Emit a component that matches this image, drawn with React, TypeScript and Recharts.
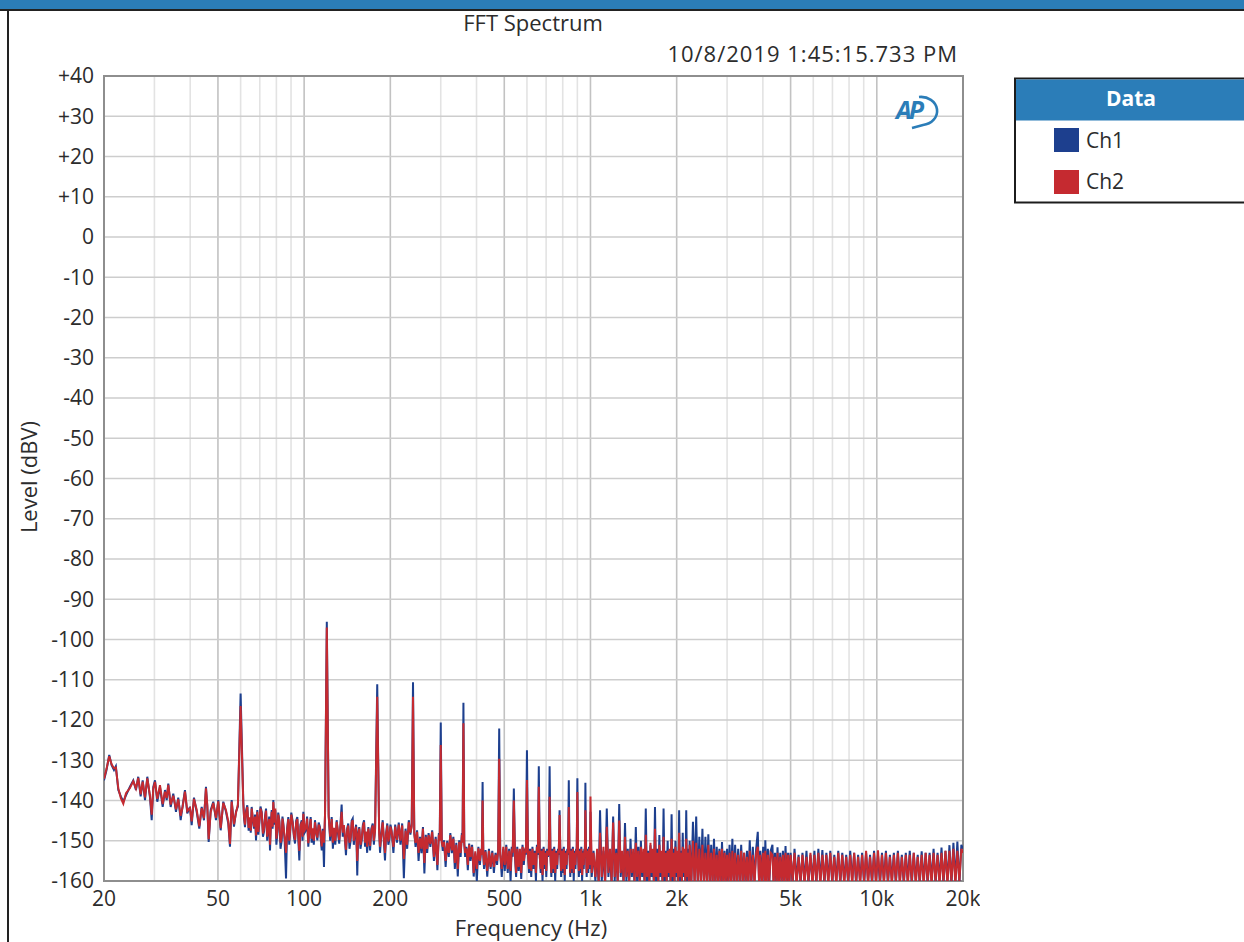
import React from 'react';
import { LineChart, Line, XAxis, YAxis, CartesianGrid, ReferenceArea } from 'recharts';

// Each row: [frequency Hz, Ch1 level dBV, Ch2 level dBV]
type Row = [number, number, number];

// 20 Hz – 60 Hz: low-frequency noise floor up to the mains fundamental
const lowBand: Row[] = [
  [20.0, -135.0, -134.6], [20.4, -132.5, -132.2], [20.86, -128.7, -129.0], [21.26, -131.2, -131.0],
  [21.67, -132.4, -132.0], [22.0, -131.5, -131.8], [22.44, -137.4, -137.0], [22.9, -139.0, -139.4],
  [23.36, -140.3, -140.8], [23.87, -138.7, -138.2], [24.64, -136.6, -136.9], [25.31, -135.0, -135.2],
  [25.86, -137.4, -137.0], [26.34, -134.1, -134.4], [26.86, -139.0, -138.5], [27.3, -135.0, -135.3],
  [27.81, -139.9, -139.2], [28.33, -134.1, -134.5], [28.95, -139.3, -138.8], [29.35, -144.9, -143.5],
  [29.73, -136.6, -137.0], [30.14, -135.0, -135.4], [30.7, -140.3, -139.6], [31.37, -136.6, -136.2],
  [32.06, -141.6, -140.9], [32.66, -137.4, -137.8], [33.11, -139.9, -139.4], [33.54, -135.8, -136.1],
  [34.19, -141.6, -141.0], [34.91, -138.3, -138.8], [35.68, -142.8, -142.2], [36.34, -139.3, -139.7],
  [37.05, -144.9, -143.8], [37.65, -141.2, -141.6], [38.35, -137.4, -137.8], [39.07, -143.2, -142.6],
  [39.93, -141.6, -141.9], [40.48, -146.1, -145.2], [41.23, -139.3, -139.6], [42.14, -142.8, -142.3],
  [43.03, -147.0, -146.4], [43.87, -141.6, -141.9], [44.69, -144.9, -144.4], [45.41, -136.6, -137.0],
  [45.9, -141.6, -141.2], [46.41, -150.3, -149.6], [47.16, -142.4, -142.9], [48.16, -140.3, -140.6],
  [49.22, -144.9, -144.3], [50.13, -139.9, -140.2], [51.11, -147.4, -146.9], [52.19, -140.3, -140.6],
  [53.34, -142.8, -142.4], [54.33, -145.7, -145.2], [55.08, -151.5, -150.8], [55.84, -139.9, -140.3],
  [56.88, -146.5, -145.9], [57.8, -142.8, -143.1], [58.7, -141.5, -141.0], [60.0, -113.4, -116.5],
];

// 60 Hz – 200 Hz: hum harmonics at 120 Hz and 180 Hz
const humBand: Row[] = [
  [61.31, -140.3, -140.8], [61.7, -144.5, -144.0], [62.15, -146.6, -146.0], [62.7, -142.5, -143.0],
  [63.31, -141.2, -141.6], [64.0, -147.5, -146.8], [64.7, -144.9, -144.2], [65.1, -148.0, -147.5],
  [65.59, -141.6, -142.0], [66.2, -145.0, -144.6], [66.82, -147.0, -146.5], [67.4, -143.5, -144.0],
  [67.91, -149.9, -148.7], [68.62, -142.4, -142.8], [69.2, -148.5, -147.8], [69.73, -145.7, -145.2],
  [70.4, -141.5, -142.0], [71.1, -142.8, -143.2], [71.8, -149.0, -148.2], [72.42, -147.7, -147.0],
  [73.0, -144.0, -144.5], [73.6, -142.0, -142.5], [74.3, -150.0, -149.0], [74.97, -146.5, -146.0],
  [75.5, -144.0, -144.6], [76.0, -152.4, -151.0], [76.5, -146.0, -146.4], [77.05, -142.4, -142.8],
  [77.6, -147.0, -146.5], [78.05, -139.9, -140.4], [78.7, -146.0, -145.5], [79.32, -142.4, -142.0],
  [80.0, -151.0, -149.5], [80.61, -148.2, -147.5], [81.2, -143.0, -143.5], [81.91, -144.9, -145.3],
  [82.7, -152.0, -150.5], [83.51, -149.9, -149.0], [84.0, -144.0, -144.5], [84.59, -145.7, -146.2],
  [85.5, -150.0, -149.0], [86.44, -159.4, -153.0], [87.2, -147.0, -147.5], [88.06, -144.1, -144.6],
  [88.7, -151.0, -150.0], [89.27, -148.2, -147.6], [90.2, -143.0, -143.5], [91.23, -145.3, -145.8],
  [92.1, -149.0, -148.5], [92.94, -150.7, -149.8], [93.8, -145.0, -145.5], [94.67, -144.1, -144.6],
  [95.4, -149.5, -148.8], [96.21, -154.9, -152.5], [97.1, -146.0, -146.5], [98.09, -144.9, -145.3],
  [98.7, -150.0, -149.0], [99.36, -142.8, -143.3], [100.4, -148.0, -147.4], [101.5, -147.4, -146.8],
  [102.4, -144.0, -144.5], [103.4, -151.5, -150.6], [104.4, -147.0, -147.5], [105.4, -144.1, -144.6],
  [106.2, -150.5, -149.5], [107.1, -147.4, -146.9], [108.1, -151.0, -150.0], [109.1, -144.9, -145.4],
  [110.1, -147.5, -147.9], [111.2, -149.9, -149.2], [112.4, -145.5, -146.0], [113.6, -146.6, -147.0],
  [114.4, -150.0, -149.0], [115.2, -152.4, -151.4], [116.2, -147.0, -147.5], [117.3, -156.5, -150.5],
  [118.3, -143.0, -143.5], [120.0, -95.6, -97.0], [121.8, -143.5, -144.0], [123.3, -150.0, -149.0],
  [124.8, -144.1, -144.6], [126.0, -152.0, -150.5], [127.1, -147.4, -146.8], [128.5, -151.0, -150.0],
  [129.9, -144.9, -145.3], [131.2, -148.0, -147.5], [132.6, -150.7, -149.8], [133.9, -146.0, -146.4],
  [135.2, -141.0, -142.8], [136.4, -149.0, -148.0], [137.7, -146.6, -146.1], [138.9, -150.0, -149.5],
  [140.0, -153.6, -152.2], [141.3, -147.0, -147.5], [142.6, -145.7, -146.2], [144.0, -152.0, -150.5],
  [145.4, -149.9, -149.1], [146.6, -145.0, -145.5], [147.8, -144.5, -144.9], [149.1, -151.0, -150.0],
  [150.5, -148.2, -147.6], [151.9, -146.0, -146.5], [153.3, -158.6, -155.0], [154.5, -148.0, -148.5],
  [155.8, -146.6, -147.0], [157.3, -152.0, -151.0], [158.9, -149.9, -149.3], [160.4, -146.0, -146.5],
  [161.9, -144.9, -145.4], [163.2, -151.5, -150.5], [164.5, -148.2, -147.7], [166.0, -153.0, -151.5],
  [167.6, -146.6, -147.0], [168.8, -149.5, -149.0], [169.9, -152.4, -151.3], [171.7, -147.0, -147.5],
  [173.6, -145.7, -146.2], [175.2, -151.0, -150.0], [176.9, -147.0, -147.4], [180.0, -111.1, -114.2],
  [182.8, -147.5, -148.0], [184.1, -153.0, -151.5], [186.1, -148.0, -148.5], [188.1, -144.9, -145.4],
  [189.8, -150.0, -149.2], [191.6, -154.9, -153.0], [193.4, -148.0, -148.4], [195.2, -145.7, -146.2],
  [196.8, -151.0, -150.2], [198.3, -149.9, -149.2], [200.2, -146.0, -146.5],
];

// 200 Hz – 500 Hz
const midBand: Row[] = [
  [202, -147.4, -147.8], [205, -153.0, -151.5], [208, -146.0, -146.5], [211, -150.5, -149.8],
  [214, -145.5, -146.0], [217, -151.0, -150.0], [220, -145.7, -146.2], [223, -159.3, -154.5],
  [226, -147.0, -147.5], [229, -152.0, -151.0], [232, -144.9, -145.4], [235, -148.5, -148.0],
  [237.5, -146.0, -146.5], [240, -110.6, -114.2], [242.5, -148.0, -148.4], [245, -151.5, -150.5],
  [248, -147.4, -147.8], [251, -155.0, -153.0], [254, -149.0, -149.4], [257, -153.1, -152.0],
  [260, -146.6, -147.0], [263, -158.1, -155.5], [266, -148.5, -149.0], [269, -153.0, -152.0],
  [272, -148.1, -148.6], [276, -151.5, -150.8], [280, -147.4, -147.8], [284, -155.0, -154.0],
  [288, -149.0, -149.5], [292, -157.3, -156.0], [295.5, -148.1, -148.5], [297.5, -149.5, -150.0],
  [300, -120.6, -126.2], [302.5, -150.0, -150.5], [305, -152.5, -151.5], [308, -149.9, -150.3],
  [312, -156.5, -155.0], [316, -150.0, -150.5], [320, -154.0, -153.0], [324, -148.1, -148.6],
  [328, -153.1, -152.4], [332, -149.0, -149.5], [336, -157.0, -155.5], [340, -150.5, -151.0],
  [344, -158.9, -157.0], [348, -149.9, -150.3], [352, -154.0, -153.0], [355.5, -148.1, -148.6],
  [357.5, -150.0, -150.5], [360, -115.7, -120.8], [362.5, -150.5, -151.0], [365, -154.0, -153.0],
  [369, -151.5, -151.9], [373, -157.3, -156.0], [377, -150.7, -151.0], [381, -155.0, -154.0],
  [386, -151.0, -151.5], [391, -158.9, -158.0], [396, -153.1, -152.6], [401, -160.0, -157.0],
  [406, -151.5, -151.9], [411, -156.0, -155.0], [415, -152.5, -152.0], [417.5, -153.0, -153.5],
  [420, -135.4, -140.0], [422.5, -154.0, -153.5], [425, -157.0, -156.0], [430, -152.3, -152.7],
  [436, -158.9, -157.5], [442, -152.0, -152.5], [448, -157.0, -156.5], [454, -152.5, -153.0],
  [460, -158.0, -156.5], [466, -153.0, -153.5], [472, -156.0, -155.0], [476, -152.0, -152.5],
  [480, -122.1, -129.6],
];

// 480 Hz – 1 kHz: 60 Hz harmonic comb
const harmonicBand: Row[] = [
  [484, -153.0, -153.5], [490, -159.0, -157.0], [496, -152.0, -151.5], [502, -157.5, -156.0],
  [508, -151.0, -151.5], [514, -158.0, -157.0], [520, -152.0, -152.5], [526, -160.0, -157.5],
  [531, -151.5, -152.0], [535, -154.0, -153.0], [540, -137.0, -140.0], [545, -154.0, -153.5],
  [550, -159.0, -158.0], [555, -151.5, -152.0], [561, -157.5, -156.5], [567, -152.5, -152.0],
  [573, -159.5, -158.0], [579, -151.0, -151.5], [585, -156.0, -155.0], [591, -152.0, -152.5],
  [595, -153.5, -153.0], [600, -127.5, -134.9], [605, -153.0, -153.5], [610, -158.0, -157.0],
  [615, -152.0, -152.5], [621, -159.0, -157.5], [627, -151.5, -152.0], [633, -157.0, -156.0],
  [639, -152.5, -153.0], [645, -160.0, -158.0], [650, -151.0, -151.5], [655, -153.5, -153.0],
  [660, -131.5, -136.6], [665, -153.5, -154.0], [670, -158.0, -157.0], [675, -152.0, -152.5],
  [680, -160.0, -158.5], [686, -151.5, -152.0], [691, -157.0, -156.0], [696, -152.5, -153.0],
  [701, -159.0, -157.5], [706, -152.0, -152.5], [711, -154.0, -153.5], [715, -153.0, -153.5],
  [720, -131.5, -139.1], [725, -153.5, -154.0], [730, -159.0, -158.0], [735, -152.0, -152.5],
  [741, -158.0, -157.0], [747, -151.5, -152.0], [753, -160.0, -158.0], [759, -152.5, -153.0],
  [765, -157.0, -156.0], [770, -152.0, -152.5], [775, -153.5, -153.0], [780, -142.4, -143.6],
  [785, -153.0, -153.5], [790, -159.0, -157.5], [795, -152.0, -152.5], [801, -158.0, -157.0],
  [807, -151.5, -152.0], [813, -160.0, -158.5], [819, -152.5, -153.0], [825, -157.0, -156.0],
  [830, -152.0, -152.5], [835, -153.5, -153.0], [840, -135.0, -141.6], [845, -153.5, -154.0],
  [850, -159.0, -158.0], [856, -152.0, -152.5], [862, -158.0, -157.0], [868, -151.5, -152.0],
  [874, -160.0, -158.0], [880, -152.5, -153.0], [886, -157.0, -156.0], [891, -152.0, -152.5],
  [895, -153.5, -153.0], [900, -134.5, -137.9], [905, -153.0, -153.5], [911, -159.0, -157.5],
  [917, -152.0, -152.5], [923, -158.0, -157.0], [929, -151.5, -152.0], [935, -160.0, -158.5],
  [941, -152.5, -153.0], [947, -157.0, -156.0], [952, -152.0, -152.5], [956, -153.5, -153.0],
  [960, -135.6, -142.4], [965, -153.0, -153.5], [970, -159.0, -158.0], [976, -152.0, -152.5],
  [982, -158.0, -157.0], [988, -151.5, -152.0], [993, -157.0, -156.0], [997, -153.0, -153.0],
  [1000, -142.8, -139.0], [1010, -159.0, -158.0], [1025, -152.5, -153.0], [1040, -160.0, -159.0],
  [1055, -153.0, -152.0], [1068, -161.0, -160.0],
];

// 1 kHz – 3 kHz
const upperBand: Row[] = [
  [1080, -142.4, -148.0], [1095, -160, -159], [1110, -152.5, -151.5], [1125, -161, -160],
  [1140, -142.0, -146.5], [1155, -159, -158], [1170, -153.0, -152.0], [1185, -161, -160],
  [1200, -144.0, -145.5], [1215, -160, -159], [1230, -152.0, -153.0], [1245, -161, -160],
  [1260, -140.9, -145.0], [1275, -159, -158], [1290, -153.5, -152.5], [1305, -161, -160],
  [1320, -145.6, -149.0], [1335, -160, -159], [1350, -152.0, -152.5], [1365, -161, -160],
  [1380, -149.5, -152.0], [1395, -159, -158], [1410, -153.0, -152.0], [1425, -161, -160],
  [1440, -146.6, -150.5], [1455, -160, -159], [1470, -151.5, -152.5], [1485, -161, -160],
  [1500, -150.0, -151.5], [1515, -159, -158], [1530, -153.0, -152.0], [1545, -161, -160],
  [1560, -142.0, -148.5], [1575, -160, -159], [1590, -152.5, -153.0], [1605, -161, -160],
  [1620, -151.1, -150.5], [1635, -159, -158], [1650, -153.0, -152.0], [1665, -161, -160],
  [1680, -141.6, -147.0], [1695, -160, -159], [1710, -152.0, -153.0], [1725, -161, -160],
  [1740, -148.6, -151.0], [1755, -159, -158], [1770, -153.5, -152.5], [1785, -161, -160],
  [1800, -142.0, -149.0], [1815, -160, -159], [1830, -152.5, -153.0], [1845, -161, -160],
  [1860, -150.0, -152.5], [1875, -159, -158], [1890, -153.0, -152.0], [1905, -161, -160],
  [1920, -143.4, -149.5], [1935, -160, -159], [1950, -152.0, -153.0], [1965, -161, -160],
  [1980, -150.0, -151.5], [1995, -159, -158], [2010, -153.0, -152.5], [2025, -161, -160],
  [2040, -142.4, -148.0], [2055, -160, -159], [2070, -152.5, -153.0], [2085, -161, -160],
  [2100, -148.0, -151.5], [2115, -159, -158], [2130, -153.0, -152.0], [2145, -161, -160],
  [2160, -142.4, -149.5], [2175, -160, -159], [2190, -152.0, -153.0], [2205, -161, -160],
  [2220, -150.0, -151.0], [2250, -161, -160], [2280, -145.3, -150.0], [2310, -160, -161],
  [2340, -144.0, -150.5], [2370, -161, -160], [2400, -149.0, -152.0], [2430, -160, -161],
  [2460, -147.0, -151.0], [2490, -161, -160], [2520, -149.0, -153.0], [2550, -160, -161],
  [2580, -148.4, -151.0], [2610, -161, -160], [2640, -151.0, -153.0], [2670, -160, -161],
  [2700, -149.5, -152.0], [2730, -161, -160], [2760, -151.5, -153.5], [2790, -160, -161],
  [2820, -152.0, -152.5], [2850, -161, -160], [2880, -150.3, -152.0], [2910, -160, -161],
  [2940, -152.5, -153.0], [2970, -161, -160],
];

// 3 kHz – 5 kHz
const trebleBand: Row[] = [
  [3000, -152.0, -153.5], [3030, -161, -160], [3060, -151.0, -153.0], [3095, -160, -161],
  [3130, -149.5, -152.5], [3165, -161, -160], [3200, -151.0, -153.0], [3240, -160, -161],
  [3280, -152.0, -153.5], [3320, -161, -160], [3360, -151.0, -152.5], [3400, -160, -161],
  [3440, -153.0, -153.0], [3480, -161, -160], [3520, -152.5, -154.0], [3560, -160, -161],
  [3600, -149.9, -152.5], [3645, -161, -160], [3690, -151.5, -153.5], [3740, -160, -161],
  [3790, -152.0, -153.0], [3840, -147.8, -151.5], [3880, -161, -160], [3920, -152.5, -153.5],
  [3965, -160, -161], [4010, -151.5, -153.0], [4055, -161, -160], [4080, -149.9, -152.5],
  [4120, -160, -161], [4165, -152.0, -153.5], [4210, -161, -160], [4260, -152.5, -153.0],
  [4320, -151.0, -153.5], [4360, -160, -161], [4410, -153.0, -154.0], [4460, -161, -160],
  [4500, -151.6, -153.0], [4550, -160, -161], [4600, -153.0, -154.0], [4650, -161, -160],
  [4700, -152.5, -153.5], [4750, -160, -161], [4800, -151.3, -153.0], [4850, -161, -160],
  [4900, -153.0, -153.5], [4950, -160, -161],
];

// 5 kHz – 20 kHz: flat noise floor
const topBand: Row[] = [
  [5000, -153.0, -153.5], [5080, -161, -160], [5160, -152.0, -153.0], [5245, -160, -161],
  [5330, -153.5, -154.0], [5415, -161, -160], [5500, -153.0, -153.5], [5590, -160, -161],
  [5680, -152.5, -154.0], [5770, -161, -160], [5865, -153.5, -153.0], [5960, -160, -161],
  [6055, -152.5, -153.5], [6150, -161, -160], [6250, -152.0, -153.0], [6350, -160, -161],
  [6455, -152.3, -153.5], [6560, -161, -160], [6665, -153.0, -153.5], [6770, -160, -161],
  [6880, -152.5, -153.0], [6990, -161, -160], [7105, -153.5, -154.0], [7220, -160, -161],
  [7335, -152.5, -153.0], [7455, -161, -160], [7575, -153.0, -153.5], [7695, -160, -161],
  [7820, -153.5, -154.0], [7945, -161, -160], [8075, -152.5, -153.5], [8205, -160, -161],
  [8335, -153.0, -153.0], [8470, -161, -160], [8605, -153.5, -154.0], [8745, -160, -161],
  [8885, -153.0, -153.5], [9030, -161, -160], [9175, -153.0, -152.5], [9320, -160, -161],
  [9470, -153.5, -154.0], [9625, -161, -160], [9780, -152.5, -153.0], [9935, -160, -161],
  [10095, -153.5, -152.4], [10260, -161, -160], [10425, -153.0, -153.5], [10590, -160, -161],
  [10760, -152.5, -153.0], [10935, -161, -160], [11110, -153.5, -154.0], [11290, -160, -161],
  [11470, -153.0, -153.5], [11655, -161, -160], [11845, -152.5, -153.0], [12035, -160, -161],
  [12230, -153.5, -154.0], [12425, -161, -160], [12625, -153.0, -153.5], [12830, -160, -161],
  [13035, -152.5, -153.5], [13245, -161, -160], [13460, -153.0, -153.0], [13675, -160, -161],
  [13895, -153.5, -154.0], [14120, -161, -160], [14345, -152.6, -153.5], [14575, -160, -161],
  [14810, -153.0, -153.0], [15050, -161, -160], [15290, -153.0, -153.5], [15535, -160, -161],
  [15785, -152.0, -153.0], [16040, -161, -160], [16300, -153.0, -153.5], [16560, -160, -161],
  [16825, -151.7, -153.0], [17095, -161, -160], [17370, -152.5, -152.5], [17650, -160, -161],
  [17935, -151.1, -152.5], [18225, -161, -160], [18515, -150.5, -152.0], [18815, -160, -161],
  [19115, -150.2, -152.5], [19425, -161, -160], [19735, -151.0, -152.0], [20000, -152.0, -153.0],
];

const freqTicks = [20, 50, 100, 200, 500, 1000, 2000, 5000, 10000, 20000];
const majorGridFreqs = [50, 100, 200, 500, 1000, 2000, 5000, 10000];
const minorGridFreqs = [30, 40, 60, 70, 80, 90, 300, 400, 600, 700, 800, 900, 3000, 4000, 6000, 7000, 8000, 9000];
const levelTicks = [40, 30, 20, 10, 0, -10, -20, -30, -40, -50, -60, -70, -80, -90, -100, -110, -120, -130, -140, -150, -160];
const channels = [
  { key: 'ch1', name: 'Ch1', color: '#1d3f8e' },
  { key: 'ch2', name: 'Ch2', color: '#c52a30' },
];

const spectrum = [lowBand, humBand, midBand, harmonicBand, upperBand, trebleBand, topBand]
  .flat()
  .map(([f, a, b]) => ({ f, ch1: a, ch2: b }));

const FONT = '"Open Sans", "Noto Sans", sans-serif';
const TEXT = '#2c2c2c';
const BRAND = '#2b7db8';

const fmtFreq = (v: number) => (v >= 1000 ? `${v / 1000}k` : String(v));
const fmtLevel = (v: number) => (v > 0 ? `+${v}` : String(v));

export default function App() {
  return (
    <div style={{ position: 'fixed', left: 0, top: 0, width: 1244, height: 942, background: '#fff', overflow: 'hidden' }}>
      <LineChart
        width={980}
        height={942}
        data={spectrum}
        margin={{ top: 76, right: 17, bottom: 21, left: 8 }}
        style={{ position: 'absolute', left: 0, top: 0 }}
      >
        <CartesianGrid horizontal={false} verticalValues={minorGridFreqs} stroke="#e3e3e3" strokeWidth={1.6} />
        <CartesianGrid horizontal={false} verticalValues={majorGridFreqs} stroke="#c2c2c2" strokeWidth={1.6} />
        <CartesianGrid vertical={false} stroke="#cdcdcd" strokeWidth={1.6} />
        <XAxis
          dataKey="f"
          type="number"
          scale="log"
          domain={[20, 20000]}
          allowDataOverflow
          ticks={freqTicks}
          interval={0}
          tickFormatter={fmtFreq}
          tickLine={false}
          axisLine={false}
          tickSize={8}
          tickMargin={2}
          height={40}
          tick={{ fontSize: 21, fill: TEXT, fontFamily: FONT }}
        />
        <YAxis
          type="number"
          domain={[-160, 40]}
          allowDataOverflow
          ticks={levelTicks}
          interval={0}
          tickFormatter={fmtLevel}
          tickLine={false}
          axisLine={false}
          tickSize={8}
          tickMargin={2}
          width={96}
          tick={{ fontSize: 21, fill: TEXT, fontFamily: FONT }}
        />
        {channels.map((c) => (
          <Line
            key={c.key}
            dataKey={c.key}
            name={c.name}
            type="linear"
            stroke={c.color}
            strokeWidth={2}
            dot={false}
            activeDot={false}
            isAnimationActive={false}
          />
        ))}
        <ReferenceArea x1={20} x2={20000} y1={-160} y2={40} fill="none" stroke="#8e8e8e" strokeWidth={2} />
      </LineChart>

      <svg width={1244} height={942} style={{ position: 'absolute', left: 0, top: 0, pointerEvents: 'none' }}>
        {/* window frame */}
        <rect x={0} y={0} width={1244} height={9} fill={BRAND} />
        <rect x={0} y={9} width={1244} height={2} fill="#222" />
        <rect x={7} y={9} width={2} height={933} fill="#222" />

        {/* titles */}
        <text x={533} y={31} textAnchor="middle" fontFamily={FONT} fontSize={22} fill={TEXT}>FFT Spectrum</text>
        <text x={958} y={62} textAnchor="end" fontFamily={FONT} fontSize={22} letterSpacing={1} fill={TEXT}>10/8/2019 1:45:15.733 PM</text>
        <text x={531} y={936} textAnchor="middle" fontFamily={FONT} fontSize={22} fill={TEXT}>Frequency (Hz)</text>
        <text x={37} y={477} textAnchor="middle" fontFamily={FONT} fontSize={22} fill={TEXT} transform="rotate(-90 37 477)">Level (dBV)</text>

        {/* AP mark */}
        <g transform="translate(893 92)">
          <text x={3} y={27} fontFamily={FONT} fontStyle="italic" fontWeight={700} fontSize={25} fill={BRAND} letterSpacing={-3}>AP</text>
          <path d="M 26 5 A 16 14 0 0 1 30 33 L 19 36" fill="none" stroke={BRAND} strokeWidth={2.6} />
        </g>

        {/* legend */}
        <rect x={1015} y={78.5} width={240} height={124} fill="#fff" stroke="#1c1c1c" strokeWidth={2} />
        <rect x={1016} y={79.5} width={238} height={41} fill={BRAND} />
        <text x={1131} y={106} textAnchor="middle" fontFamily={FONT} fontWeight={700} fontSize={21} fill="#fff">Data</text>
        {channels.map((c, i) => (
          <g key={c.key}>
            <rect x={1054} y={128 + i * 42} width={25} height={24} fill={c.color} />
            <text x={1086} y={148 + i * 41} fontFamily={FONT} fontSize={21} fill={TEXT}>{c.name}</text>
          </g>
        ))}
      </svg>
    </div>
  );
}
